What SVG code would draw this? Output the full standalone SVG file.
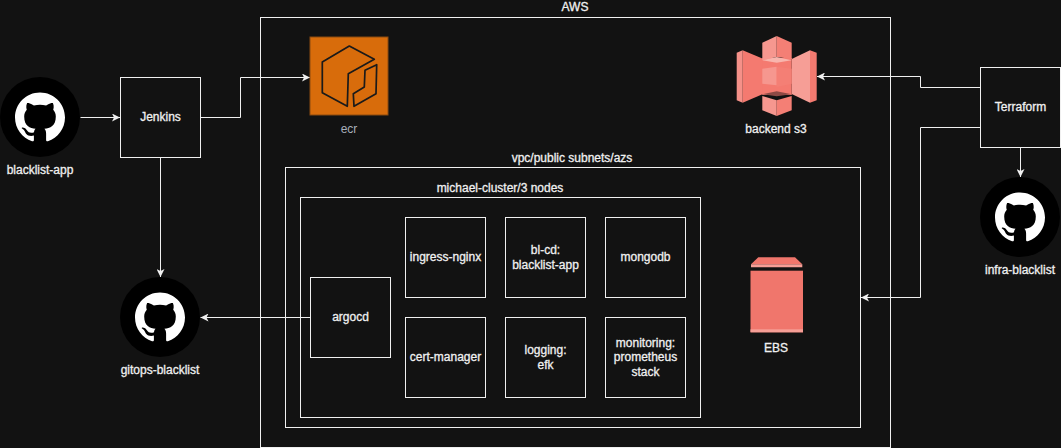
<svg xmlns="http://www.w3.org/2000/svg" width="1061" height="448" viewBox="0 0 1061 448">
<style>
text{font-family:"Liberation Sans",Arial,sans-serif;font-size:12px;font-weight:400;fill:#f0f0f0;stroke:#f0f0f0;stroke-width:.3px;text-anchor:middle}
.b{fill:none;stroke:#f0f0f0;stroke-width:1}
.c{fill:none;stroke:#f0f0f0;stroke-width:1;marker-end:url(#a)}
</style>
<defs>
<marker id="a" viewBox="0 0 8 8" refX="8" refY="4" markerWidth="8" markerHeight="8" markerUnits="userSpaceOnUse" orient="auto"><path d="M0 0L8 4L0 8L2 4Z" fill="#f0f0f0"/></marker>
<g id="gh">
<circle cx="40" cy="40" r="40" fill="#000"/>
<path fill="#fff" d="M40 15.500C26.200 15.500 15 26.700 15 40.500C15 51.500 22.200 60.900 32.100 64.200C33.400 64.400 33.900 63.600 33.900 62.900L33.900 58.600C27 60.100 25.500 55.700 25.500 55.700C24.400 52.800 22.700 52 22.700 52C20.400 50.500 22.900 50.500 22.900 50.500C25.400 50.700 26.700 53.100 26.700 53.100C28.900 56.900 32.600 55.800 34 55.200C34.200 53.600 34.900 52.500 35.600 51.800C30 51.200 24.200 49 24.200 39.400C24.200 36.700 25.200 34.400 26.800 32.700C26.500 32 25.700 29.500 27.100 26.100C27.100 26.100 29.200 25.400 33.900 28.600C35.900 28 38 27.800 40 27.800C42 27.800 44.100 28 46.100 28.600C50.800 25.400 52.900 26.100 52.900 26.100C54.300 29.500 53.500 32 53.200 32.700C54.800 34.400 55.800 36.700 55.800 39.400C55.800 49 50 51.200 44.400 51.800C45.300 52.600 46.100 54.100 46.100 56.400L46.100 62.900C46.100 63.600 46.600 64.400 47.900 64.200C57.800 60.900 65 51.500 65 40.500C65 26.700 53.800 15.500 40 15.500Z"/>
</g>
</defs>
<rect width="1061" height="448" fill="#121212"/>

<g id="aws"><rect class="b" x="260.500" y="17.500" width="630" height="430"/><text x="575" y="11">AWS</text></g>
<g id="vpc"><rect class="b" x="285.500" y="167.500" width="575" height="260"/><text x="572" y="162">vpc/public subnets/azs</text></g>
<g id="cluster"><rect class="b" x="300.500" y="197.500" width="400" height="220"/><text x="500" y="192">michael-cluster/3 nodes</text></g>

<g id="connectors">
<path class="c" d="M80.500 117.500H120"/>
<path class="c" d="M200.500 117.500H240.500V77.500H310"/>
<path class="c" d="M160.500 157.500V277"/>
<path class="c" d="M310.500 317.500H200.500"/>
<path class="c" d="M980.500 87.500H920.500V76.500H817"/>
<path class="c" d="M980.500 127.500H920.500V297.500H861"/>
<path class="c" d="M1020.500 147.500V177"/>
</g>

<g id="blacklist-app"><use href="#gh" x="0" y="77"/><text x="40" y="174">blacklist-app</text></g>
<g id="jenkins"><rect class="b" x="120.500" y="77.500" width="80" height="80"/><text x="160.500" y="121">Jenkins</text></g>
<g id="gitops-blacklist"><use href="#gh" x="120" y="277"/><text x="160" y="374">gitops-blacklist</text></g>

<g id="ecr">
<rect x="310" y="37" width="78" height="78" fill="#d86c0b" stroke="#8a4a10"/>
<path fill="none" stroke="#1a1a1a" stroke-width="1.700" stroke-linejoin="round" d="M349.300 46L374.300 59.300L348.300 73.700L347.300 106.300L322.300 92.700V62ZM376.700 64.700L376 93.700L354 106.300L353.300 93.700L364.300 87L365 70.300Z"/>
<text x="349" y="133" style="fill:#a8afba;stroke:none">ecr</text>
</g>

<g id="backend-s3">
<path fill="#f59189" d="M736.700 52.700L742.700 50.300V102.700L736.700 100.300Z"/>
<path fill="#f47a70" d="M742.700 50.300L763 58.700V94L742.700 102.700Z"/>
<path fill="#f69e96" d="M791.700 59L810 50.300V102.700L791.700 94Z"/>
<path fill="#f47a70" d="M810 50.300L816.700 52.700V100.300L810 102.700Z"/>
<path fill="#f47a70" d="M762.300 58H791.700V95H762.300Z"/>
<path fill="#f6978f" d="M762.300 42.700L776.700 36V57L762.300 60.300Z"/>
<path fill="#f47f75" d="M776.700 36L791.700 42.700V59L776.700 57Z"/>
<path fill="#f8b5ad" d="M762.300 60.300L776.700 57L791.700 60.300L776.700 62.700Z"/>
<path fill="#f6978f" d="M762.300 68.700L776.700 66.700V85.300L762.300 83.700Z"/>
<path fill="#f47f75" d="M776.700 66.700L791.700 68.700V83.700L776.700 87Z"/>
<path fill="#8e4a45" d="M762.300 94.300L776.700 91.300L791.700 94.300L776.700 96.300Z"/>
<path fill="#f6978f" d="M762.300 96L776.700 100.300V116L762.300 110.300Z"/>
<path fill="#f47f75" d="M776.700 100.300L791.700 96V110.300L776.700 116Z"/>
<text x="776" y="133">backend s3</text>
</g>

<g id="argocd"><rect class="b" x="310.500" y="277.500" width="80" height="80"/><text x="350.500" y="321">argocd</text></g>
<g id="ingress-nginx"><rect class="b" x="405.500" y="217.500" width="80" height="80"/><text x="445.500" y="261">ingress-nginx</text></g>
<g id="bl-cd"><rect class="b" x="505.500" y="217.500" width="80" height="80"/><text x="545.500" y="254">bl-cd:</text><text x="545.500" y="269">blacklist-app</text></g>
<g id="mongodb"><rect class="b" x="605.500" y="217.500" width="80" height="80"/><text x="645.500" y="261">mongodb</text></g>
<g id="cert-manager"><rect class="b" x="405.500" y="317.500" width="80" height="80"/><text x="445.500" y="361">cert-manager</text></g>
<g id="logging"><rect class="b" x="505.500" y="317.500" width="80" height="80"/><text x="545.500" y="354">logging:</text><text x="545.500" y="369">efk</text></g>
<g id="monitoring"><rect class="b" x="605.500" y="317.500" width="80" height="80"/><text x="645.500" y="347">monitoring:</text><text x="645.500" y="361">prometheus</text><text x="645.500" y="376">stack</text></g>

<g id="ebs">
<path fill="#f0766c" d="M751 264.300L758.300 257.300H795L802.300 264.300Z"/>
<path fill="#f69e96" d="M751 264.300H802.300V267.300H751Z"/>
<rect x="750.500" y="270.700" width="52.500" height="61.600" fill="#f0766c"/>
<rect x="750.500" y="329.300" width="52.500" height="3" fill="#f69e96"/>
<text x="776" y="352">EBS</text>
</g>

<g id="terraform"><rect class="b" x="980.500" y="67.500" width="80" height="80"/><text x="1020.500" y="111">Terraform</text></g>
<g id="infra-blacklist"><use href="#gh" x="980" y="177"/><text x="1020" y="274">infra-blacklist</text></g>
</svg>
